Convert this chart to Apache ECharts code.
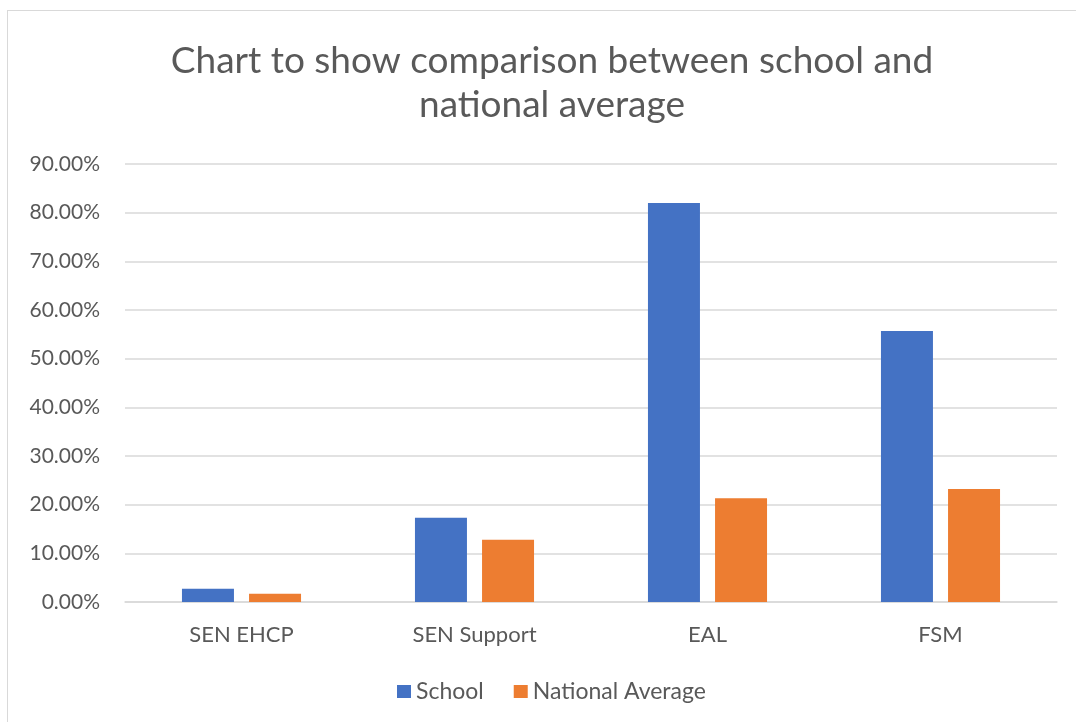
<!DOCTYPE html>
<html>
<head>
<meta charset="utf-8">
<script src="https://cdn.jsdelivr.net/npm/echarts@6/dist/echarts.min.js"></script>
<style>
  html, body { margin: 0; padding: 0; background: #fff; }
  #frame { position: absolute; left: 7px; top: 10px; width: 1080px; height: 720px; border: 1px solid #d9d9d9; box-sizing: border-box; }
  #chart { position: absolute; left: 0; top: 0; width: 1076px; height: 722px; }
</style>
</head>
<body>
<div id="frame"></div>
<div id="chart"></div>
<script>
// categories and values (percent)
var categories = ['SEN EHCP', 'SEN Support', 'EAL', 'FSM'];
var school = [2.7, 17.3, 82.0, 55.7];
var nationalAverage = [1.7, 12.8, 21.3, 23.2];
var yTicks = [0, 10, 20, 30, 40, 50, 60, 70, 80, 90];

var font = 'Lato';
var textColor = '#595959';

echarts.init(document.getElementById('chart')).setOption({
    textStyle: { fontFamily: font },
    title: {
        text: 'Chart to show comparison between school and\nnational average',
        left: 547,
        textAlign: 'center',
        top: 34,
        textStyle: { fontFamily: font, fontSize: 37, fontWeight: 'normal', color: textColor, lineHeight: 44 }
    },
    legend: {
        bottom: 14,
        left: 392,
        itemWidth: 14,
        itemHeight: 13,
        itemGap: 30,
        icon: 'rect',
        textStyle: { fontFamily: font, fontSize: 23, color: textColor },
        data: ['School', 'National Average']
    },
    grid: { left: 125, right: 19, top: 164, bottom: 120 },
    xAxis: {
        type: 'category',
        data: categories,
        axisTick: { show: false },
        axisLine: { lineStyle: { color: '#d9d9d9', width: 1.5 } },
        axisLabel: { fontFamily: font, fontSize: 22, color: textColor, margin: 22 }
    },
    yAxis: {
        type: 'value',
        min: yTicks[0],
        max: yTicks[yTicks.length - 1],
        interval: 10,
        axisLine: { show: false },
        axisTick: { show: false },
        splitLine: { lineStyle: { color: '#d9d9d9', width: 1.5 } },
        axisLabel: {
            fontFamily: font, fontSize: 21, color: textColor, margin: 25,
            formatter: function (v) { return v.toFixed(2) + '%'; }
        }
    },
    series: [
        {
            name: 'School', type: 'bar', data: school,
            barWidth: 52, barGap: '29%',
            itemStyle: { color: '#4472C4' }
        },
        {
            name: 'National Average', type: 'bar', data: nationalAverage,
            barWidth: 52,
            itemStyle: { color: '#ED7D31' }
        }
    ]
});
</script>
</body>
</html>
